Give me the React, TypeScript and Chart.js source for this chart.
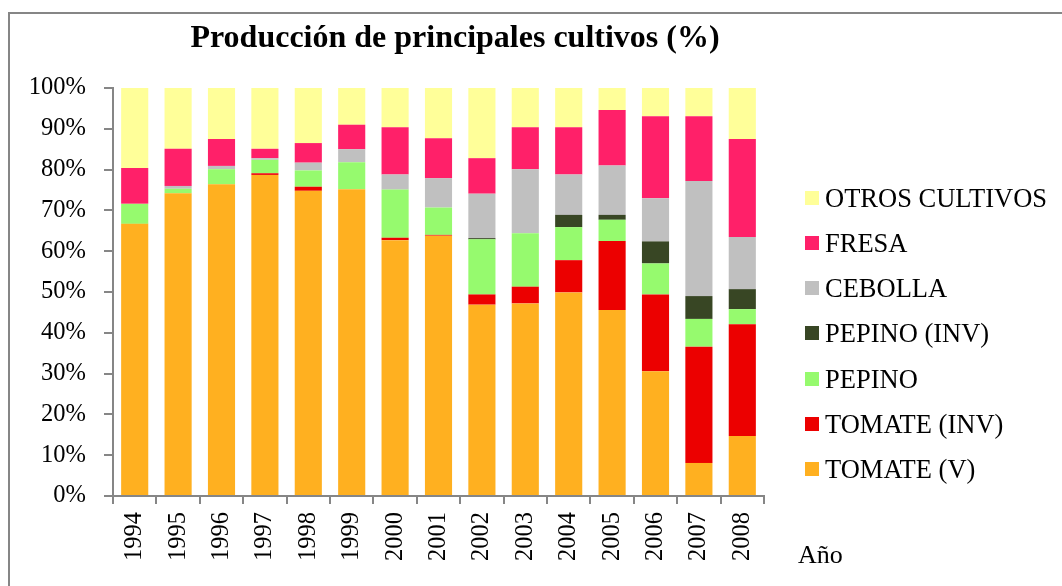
import React, { useEffect, useRef } from "react";
import { Chart, registerables } from "chart.js";

Chart.register(...registerables);

const titleText = "Producción de principales cultivos (%)";
const xTitle = "Año";
const years = ["1994", "1995", "1996", "1997", "1998", "1999", "2000", "2001", "2002", "2003", "2004", "2005", "2006", "2007", "2008"];
const tomateV = [66.7, 74.2, 76.4, 78.7, 74.8, 75.2, 62.7, 63.8, 46.9, 47.2, 49.9, 45.6, 30.6, 8.1, 14.7];
const tomateInv = [0, 0, 0, 0.4, 1.0, 0, 0.6, 0.2, 2.5, 4.1, 7.9, 16.9, 18.8, 28.5, 27.4];
const pepino = [4.9, 1.1, 3.7, 3.3, 4.0, 6.6, 11.8, 6.7, 13.5, 13.1, 8.1, 5.2, 7.6, 6.8, 3.7];
const pepinoInv = [0, 0, 0, 0, 0, 0, 0, 0, 0.3, 0, 3.0, 1.2, 5.4, 5.6, 4.9];
const cebolla = [0, 0.7, 0.8, 0.4, 1.9, 3.2, 3.7, 7.2, 10.9, 15.7, 9.9, 12.1, 10.6, 28.2, 12.8];
const fresa = [8.8, 9.1, 6.6, 2.3, 4.8, 6.0, 11.6, 9.8, 8.7, 10.3, 11.6, 13.6, 20.1, 15.9, 24.0];
const otros = [19.6, 14.9, 12.5, 14.9, 13.5, 9.0, 9.6, 12.3, 17.2, 9.6, 9.6, 5.4, 6.9, 6.9, 12.5];

const seriesNames = ["TOMATE (V)", "TOMATE (INV)", "PEPINO", "PEPINO (INV)", "CEBOLLA", "FRESA", "OTROS CULTIVOS"];
const seriesColors = ["#FFB020", "#EC0000", "#96FA6E", "#384624", "#C0C0C0", "#FF2069", "#FFFF99"];
const seriesData = [tomateV, tomateInv, pepino, pepinoInv, cebolla, fresa, otros];

const FONT = '"Liberation Serif", "Times New Roman", serif';
const AXIS_COLOR = "#868686";

const textPlugin = {
  id: "customTexts",
  afterDraw(chart: any) {
    const ctx = chart.ctx;
    ctx.save();
    ctx.fillStyle = "#000";
    ctx.font = `bold 32px ${FONT}`;
    ctx.textAlign = "center";
    ctx.textBaseline = "alphabetic";
    ctx.fillText(titleText, 455, 47);
    ctx.font = `26px ${FONT}`;
    ctx.textAlign = "left";
    ctx.fillText(xTitle, 798, 563);
    ctx.restore();
  },
};

export default function App() {
  const ref = useRef<HTMLCanvasElement | null>(null);

  useEffect(() => {
    if (!ref.current) return;
    Chart.defaults.font.family = FONT;
    Chart.defaults.color = "#000";
    const chart = new Chart(ref.current, {
      type: "bar",
      data: {
        labels: years,
        datasets: seriesNames.map((name, i) => ({
          label: name,
          data: seriesData[i],
          backgroundColor: seriesColors[i],
          borderWidth: 0,
          barPercentage: 0.625,
          categoryPercentage: 1,
        })),
      },
      options: {
        responsive: false,
        animation: false,
        layout: { padding: { top: 88, left: 0, right: 298, bottom: 0 } },
        plugins: {
          title: { display: false },
          tooltip: { enabled: false },
          legend: { display: false },
        },
        scales: {
          x: {
            stacked: true,
            grid: { display: true, drawOnChartArea: false, drawTicks: true, tickLength: 8, color: AXIS_COLOR, lineWidth: 2, offset: true },
            border: { display: true, color: AXIS_COLOR, width: 2 },
            ticks: { autoSkip: false, minRotation: 90, maxRotation: 90, padding: 8, color: "#000", font: { size: 24.5, family: FONT } },
            afterFit: (s: any) => { s.height = 90; },
          },
          y: {
            stacked: true,
            min: 0,
            max: 100,
            grid: { display: true, drawOnChartArea: false, drawTicks: true, tickLength: 9, color: AXIS_COLOR, lineWidth: 2 },
            border: { display: true, color: AXIS_COLOR, width: 2 },
            ticks: { stepSize: 10, padding: 18, color: "#000", font: { size: 24.5, family: FONT }, callback: (v: any) => `${v}%` },
            afterFit: (s: any) => { s.width = 113; },
          },
        },
      },
      plugins: [textPlugin],
    } as any);
    return () => chart.destroy();
  }, []);

  const legendOrder = seriesNames.map((_, i) => i).reverse();

  return (
    <div>
      <canvas ref={ref} width={1062} height={586} style={{ position: "fixed", left: 0, top: 0, width: 1062, height: 586 }} />
      <div style={{ position: "fixed", left: 8, top: 12, right: -20, bottom: -20, borderTop: `2px solid ${AXIS_COLOR}`, borderLeft: `2px solid ${AXIS_COLOR}`, pointerEvents: "none" }} />
      {legendOrder.map((idx, k) => {
        const cy = 197.5 + 45.25 * k;
        return (
          <div key={seriesNames[idx]}>
            <div style={{ position: "fixed", left: 805, top: cy - 7, width: 14, height: 14, background: seriesColors[idx] }} />
            <div style={{ position: "fixed", left: 825, top: cy - 15, height: 30, lineHeight: "30px", fontSize: 26.5, fontFamily: FONT, color: "#000", whiteSpace: "nowrap" }}>
              {seriesNames[idx]}
            </div>
          </div>
        );
      })}
    </div>
  );
}
